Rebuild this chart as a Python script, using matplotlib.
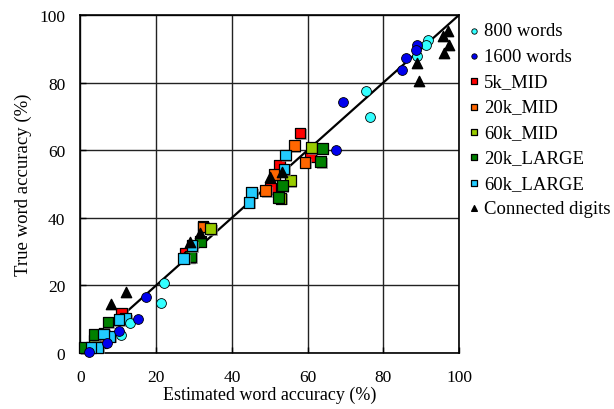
import matplotlib
matplotlib.use("Agg")
import matplotlib.pyplot as plt
import matplotlib.patheffects as pe

plt.rcParams['font.family'] = ['Liberation Serif', 'DejaVu Serif']

# ---- data ----
w800_x = [91.7, 91.3, 89.0, 75.4, 76.6, 22.2, 21.4, 13.1, 10.7]
w800_y = [92.5, 91.2, 87.9, 77.4, 69.7, 20.6, 14.9, 9.0, 5.3]

w1600_x = [89.0, 88.7, 86.1, 85.0, 69.3, 67.5, 17.4, 15.1, 10.1, 6.9, 2.2]
w1600_y = [91.2, 89.7, 87.3, 83.7, 74.2, 60.0, 16.5, 10.1, 6.6, 3.0, 0.2]

k5mid_x = [58.0, 60.8, 52.5, 50.3, 32.4, 27.6, 10.9, 6.2]
k5mid_y = [65.1, 58.2, 55.6, 48.7, 37.6, 29.5, 11.8, 5.8]

k20mid_x = [56.5, 59.3, 51.2, 48.9, 32.4, 5.5]
k20mid_y = [61.3, 56.4, 52.7, 48.0, 37.3, 3.2]

k60mid_x = [61.0, 55.4, 53.0, 34.4, 28.9, 3.8]
k60mid_y = [60.7, 51.0, 45.8, 36.8, 28.3, 3.6]

k20large_x = [63.9, 63.5, 53.3, 52.3, 31.7, 29.1, 7.3, 3.7, 1.1]
k20large_y = [60.6, 56.6, 49.5, 46.1, 33.0, 28.5, 9.2, 5.4, 1.6]

k60large_x = [54.1, 53.8, 45.2, 44.5, 29.5, 27.3, 12.0, 10.2, 7.8, 6.0, 4.5, 2.8]
k60large_y = [58.6, 54.4, 47.5, 44.6, 31.7, 28.0, 10.1, 9.8, 4.9, 5.6, 1.7, 1.7]

digits_x = [97.1, 95.7, 97.3, 95.9, 88.8, 89.4, 50.2, 53.2, 31.6, 28.9, 12.0, 8.0]
digits_y = [95.4, 93.7, 91.1, 88.7, 85.9, 80.6, 52.2, 53.6, 35.4, 32.7, 18.1, 14.6]

ticks = [0, 20, 40, 60, 80, 100]

# ---- figure ----
fig = plt.figure(figsize=(6.14, 4.10), dpi=100)
ax = fig.add_axes([0.131, 0.1366, 0.6166, 0.8244])

ax.set_xlim(0, 100)
ax.set_ylim(0, 100)
ax.set_xticks(ticks)
ax.set_yticks(ticks)
ax.grid(True, color='#222222', linewidth=1.0, zorder=0)
ax.set_axisbelow(True)
ax.tick_params(direction='in', length=4, width=1, labelsize=12.5)
ax.tick_params(axis='x', pad=11.5)
ax.tick_params(axis='y', pad=11)
for s in ax.spines.values():
    s.set_linewidth(1.2)
    s.set_color('black')

ax.plot([0, 100], [0, 100], color='black', linewidth=1.6, zorder=1)

shadow = [pe.SimplePatchShadow(offset=(1.2, -1.2), shadow_rgbFace='#888888', alpha=0.7), pe.Normal()]

sq = dict(marker='s', s=60, edgecolors='black', linewidths=0.9, clip_on=False, path_effects=shadow)
h_5k = ax.scatter(k5mid_x, k5mid_y, c='#ff0000', label='5k_MID', zorder=3, **sq)
h_20k = ax.scatter(k20mid_x, k20mid_y, c='#ff6600', label='20k_MID', zorder=3, **sq)
h_60k = ax.scatter(k60mid_x, k60mid_y, c='#99cc00', label='60k_MID', zorder=3, **sq)
h_20L = ax.scatter(k20large_x, k20large_y, c='#008000', label='20k_LARGE', zorder=3, **sq)
h_60L = ax.scatter(k60large_x, k60large_y, c='#22ccff', label='60k_LARGE', zorder=3, **sq)

ci = dict(marker='o', s=50, edgecolors='black', linewidths=0.6, clip_on=False)
h_800 = ax.scatter(w800_x, w800_y, c='#33ffff', label='800 words', zorder=4, **ci)
h_1600 = ax.scatter(w1600_x, w1600_y, c='#0000ee', label='1600 words', zorder=4, **ci)

h_dig = ax.scatter(digits_x, digits_y, marker='^', s=55, c='black', label='Connected digits',
                   zorder=5, clip_on=False)

ax.set_xlabel('Estimated word accuracy (%)', fontsize=13, labelpad=0.3)
ax.set_ylabel('True word accuracy (%)', fontsize=13.5, labelpad=5)

handles = [h_800, h_1600, h_5k, h_20k, h_60k, h_20L, h_60L, h_dig]
leg = fig.legend(handles=handles, labels=[h.get_label() for h in handles],
                 loc='upper left', bbox_to_anchor=(0.755, 0.943), frameon=False,
                 fontsize=13.5, markerscale=0.55, handletextpad=0.0, handlelength=1.1,
                 labelspacing=0.44, borderaxespad=0, borderpad=0)
for h in leg.legend_handles:
    h.set_path_effects([])

fig.savefig('out.png', dpi=100)
